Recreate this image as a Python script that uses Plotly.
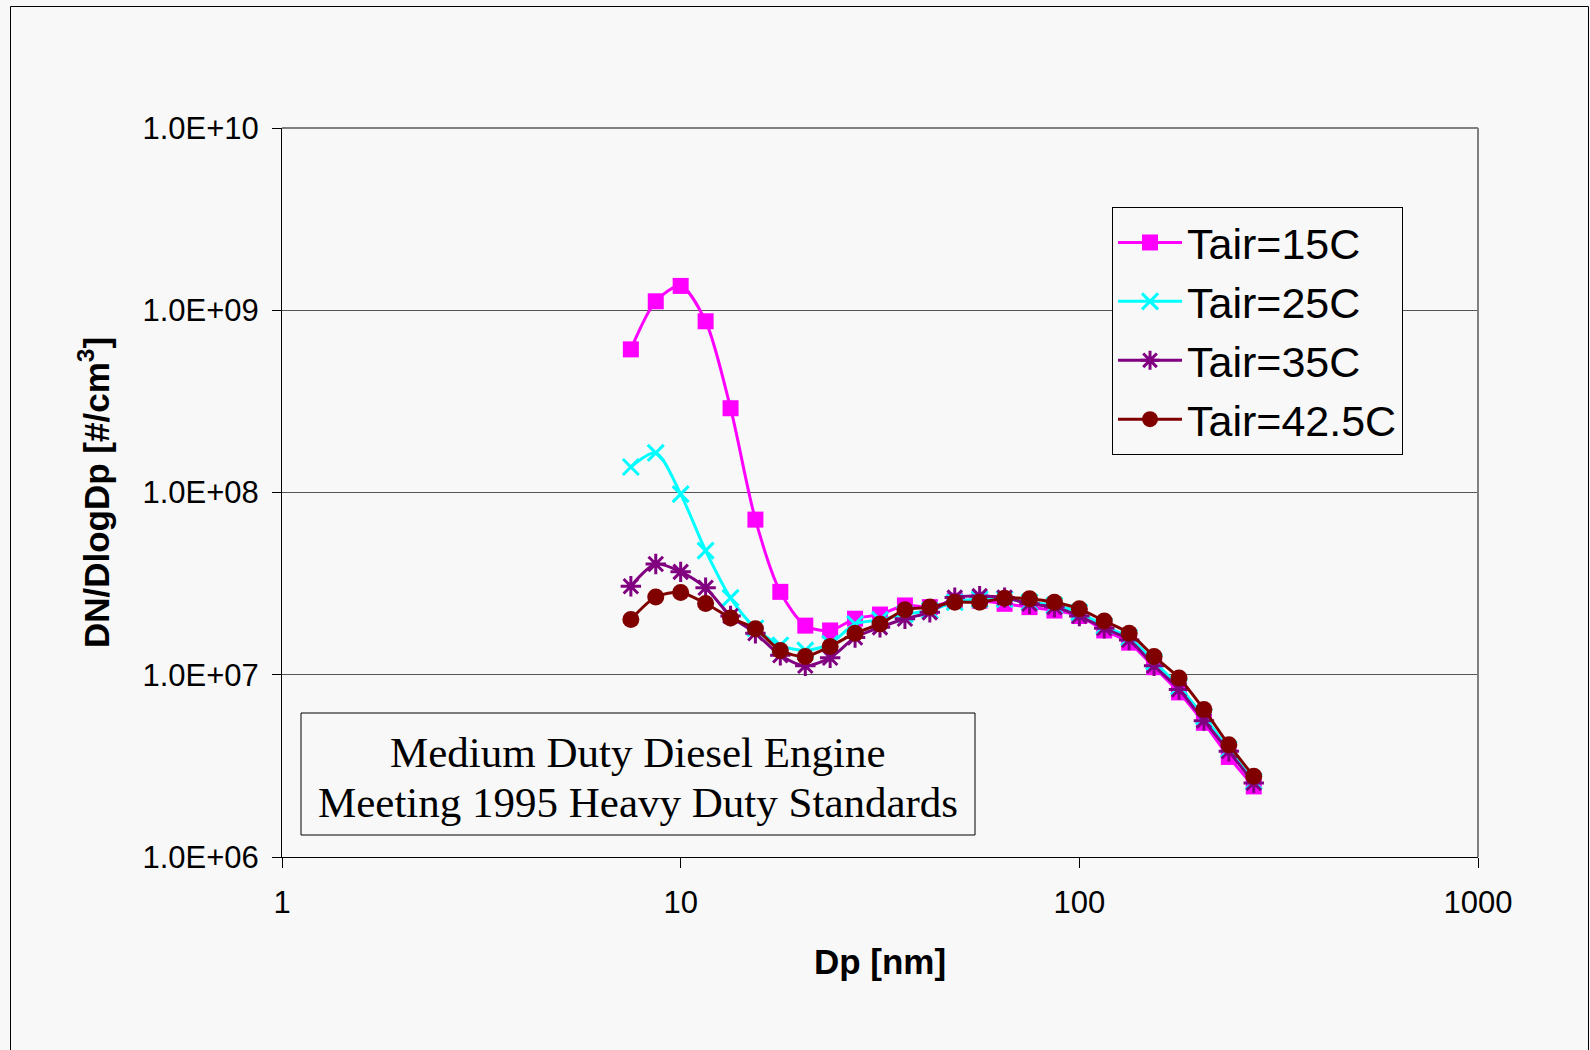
import plotly.graph_objects as go

# Data
dp_nm = [7.50, 8.66, 10.0, 11.55, 13.34, 15.40, 17.78, 20.54, 23.71, 27.38, 31.62,
         36.52, 42.17, 48.70, 56.23, 64.94, 74.99, 86.60, 100.0, 115.48, 133.35,
         153.99, 177.83, 205.35, 237.14, 273.84]

tair_15 = [6.1e8, 1.12e9, 1.36e9, 8.7e8, 2.9e8, 7.1e7, 2.85e7, 1.86e7, 1.75e7, 2.03e7,
           2.14e7, 2.4e7, 2.35e7, 2.55e7, 2.55e7, 2.45e7, 2.35e7, 2.25e7, 2.1e7, 1.75e7,
           1.5e7, 1.1e7, 8.0e6, 5.45e6, 3.54e6, 2.44e6]
tair_25 = [1.38e8, 1.65e8, 9.8e7, 4.8e7, 2.64e7, 1.8e7, 1.45e7, 1.36e7, 1.48e7, 1.9e7,
           2.0e7, 2.15e7, 2.25e7, 2.5e7, 2.6e7, 2.6e7, 2.5e7, 2.4e7, 2.2e7, 1.85e7,
           1.6e7, 1.18e7, 8.6e6, 5.9e6, 3.9e6, 2.6e6]
tair_35 = [3.06e7, 4.05e7, 3.67e7, 3.0e7, 2.1e7, 1.69e7, 1.28e7, 1.12e7, 1.24e7, 1.6e7,
           1.82e7, 2.03e7, 2.2e7, 2.65e7, 2.7e7, 2.65e7, 2.45e7, 2.35e7, 2.1e7, 1.8e7,
           1.55e7, 1.12e7, 8.3e6, 5.6e6, 3.8e6, 2.55e6]
tair_425 = [2.01e7, 2.67e7, 2.83e7, 2.46e7, 2.05e7, 1.79e7, 1.36e7, 1.26e7, 1.43e7, 1.69e7,
            1.9e7, 2.27e7, 2.35e7, 2.5e7, 2.5e7, 2.63e7, 2.61e7, 2.5e7, 2.3e7, 1.97e7,
            1.69e7, 1.26e7, 9.6e6, 6.45e6, 4.13e6, 2.77e6]

series_names = ["Tair=15C", "Tair=25C", "Tair=35C", "Tair=42.5C"]

x_tickvals = [1, 10, 100, 1000]
x_ticktext = ["1", "10", "100", "1000"]
y_tickvals = [1e6, 1e7, 1e8, 1e9, 1e10]
y_ticktext = ["1.0E+06", "1.0E+07", "1.0E+08", "1.0E+09", "1.0E+10"]

BG = "#F8F8F8"
SANS = "Arial, Liberation Sans, sans-serif"
SERIF = "Times New Roman, Liberation Serif, serif"

fig = go.Figure()

styles = [
    dict(color="#FF00FF", symbol="square", size=16, lw=0),
    dict(color="#00FFFF", symbol="x-thin", size=16, lw=3),
    dict(color="#800080", symbol="asterisk", size=17, lw=3),
    dict(color="#800000", symbol="circle", size=17, lw=0),
]
for name, vals, st in zip(series_names, [tair_15, tair_25, tair_35, tair_425], styles):
    fig.add_trace(go.Scatter(
        x=dp_nm, y=vals, name=name, mode="lines+markers",
        line=dict(color=st["color"], width=3, shape="spline", smoothing=0.8),
        marker=dict(symbol=st["symbol"], size=st["size"], color=st["color"],
                    line=dict(color=st["color"], width=st["lw"])),
    ))

fig.update_layout(
    width=1590, height=1050,
    paper_bgcolor=BG, plot_bgcolor=BG,
    margin=dict(l=282, r=112, t=128, b=193),
    font=dict(family=SANS, color="black"),
    showlegend=True,
    legend=dict(
        x=0.694, y=0.8916, xanchor="left", yanchor="top",
        bgcolor=BG, bordercolor="black", borderwidth=1,
        font=dict(family=SANS, size=43, color="black"),
        itemsizing="trace", itemwidth=64,
    ),
)

fig.update_xaxes(
    type="log", range=[0, 3],
    tickvals=x_tickvals, ticktext=x_ticktext,
    showgrid=False, zeroline=False,
    showline=True, linecolor="black", linewidth=1,
    ticks="outside", ticklen=10, tickcolor="black", tickwidth=1,
    tickfont=dict(family=SANS, size=31, color="black"),
    ticklabelstandoff=8,
    title=dict(text="<b>Dp [nm]</b>", font=dict(family=SANS, size=35, color="black"), standoff=30),
)
fig.update_yaxes(
    type="log", range=[6, 10],
    tickvals=y_tickvals, ticktext=y_ticktext,
    showgrid=True, gridcolor="#555555", gridwidth=1,
    zeroline=False,
    showline=True, linecolor="black", linewidth=1,
    ticks="outside", ticklen=9, tickcolor="black", tickwidth=1,
    tickfont=dict(family=SANS, size=31, color="black"),
    ticklabelstandoff=7,
    title=dict(text="<b>DN/DlogDp [#/cm<sup>3</sup>]</b>",
               font=dict(family=SANS, size=35, color="black"), standoff=22),
)

# plot-area border (top/right in grey)
fig.add_shape(type="line", xref="paper", yref="paper", x0=0, x1=1, y0=1, y1=1,
              line=dict(color="#808080", width=2))
fig.add_shape(type="line", xref="paper", yref="paper", x0=1, x1=1, y0=0, y1=1,
              line=dict(color="#808080", width=2))

# outer chart border
fig.add_shape(type="rect", xref="paper", yref="paper",
              x0=(10.5 - 282) / 1196, x1=(1588.5 - 282) / 1196,
              y0=(857 - 1060) / 729, y1=(857 - 6.5) / 729,
              line=dict(color="black", width=1), layer="below")

# annotation box
fig.add_shape(type="rect", xref="paper", yref="paper",
              x0=(301 - 282) / 1196, x1=(975 - 282) / 1196,
              y0=(857 - 835) / 729, y1=(857 - 713) / 729,
              line=dict(color="black", width=1), fillcolor=BG)
fig.add_annotation(xref="paper", yref="paper", x=(638 - 282) / 1196, y=(857 - 752) / 729,
                   text="Medium Duty Diesel Engine", showarrow=False,
                   font=dict(family=SERIF, size=43, color="black"),
                   xanchor="center", yanchor="middle")
fig.add_annotation(xref="paper", yref="paper", x=(638 - 282) / 1196, y=(857 - 802) / 729,
                   text="Meeting 1995 Heavy Duty Standards", showarrow=False,
                   font=dict(family=SERIF, size=43, color="black"),
                   xanchor="center", yanchor="middle")

fig.write_html("out.html")
